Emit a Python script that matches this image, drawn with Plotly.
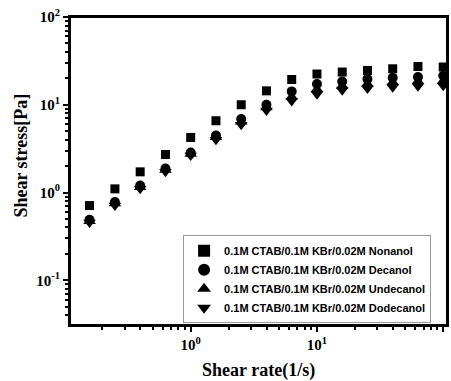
import plotly.graph_objects as go

shear_rate = [0.158, 0.251, 0.398, 0.631, 1.0, 1.585, 2.512, 3.981, 6.31, 10.0, 15.85, 25.12, 39.81, 63.1, 100.0]

nonanol = [0.71, 1.10, 1.72, 2.71, 4.24, 6.57, 10.0, 14.4, 19.4, 22.4, 23.6, 24.6, 25.7, 27.3, 26.9]
decanol = [0.49, 0.78, 1.20, 1.88, 2.86, 4.47, 6.87, 10.0, 14.2, 17.2, 18.4, 19.6, 20.3, 20.7, 21.4]
undecanol = [0.47, 0.75, 1.15, 1.80, 2.75, 4.25, 6.40, 9.3, 12.3, 15.0, 16.5, 17.4, 18.0, 18.5, 18.8]
dodecanol = [0.455, 0.71, 1.10, 1.72, 2.64, 3.99, 5.9, 8.6, 11.0, 13.2, 14.6, 15.3, 15.8, 16.3, 16.5]

series_names = [
    "0.1M CTAB/0.1M KBr/0.02M Nonanol",
    "0.1M CTAB/0.1M KBr/0.02M Decanol",
    "0.1M CTAB/0.1M KBr/0.02M Undecanol",
    "0.1M CTAB/0.1M KBr/0.02M Dodecanol",
]
symbols = ["square", "circle", "triangle-up", "triangle-down"]
sizes = [9, 10, 11, 11]

fig = go.Figure()
for name, ys, sym, sz in zip(series_names, [nonanol, decanol, undecanol, dodecanol], symbols, sizes):
    fig.add_trace(go.Scatter(
        x=shear_rate, y=ys, mode="markers", name=name,
        marker=dict(symbol=sym, size=sz, color="black", line=dict(width=0)),
    ))

major_x = [0.1, 1, 10, 100]
major_y = [0.1, 1, 10, 100]
tick_text = ["10<sup>-1</sup>", "10<sup>0</sup>", "10<sup>1</sup>", "10<sup>2</sup>"]
minor_vals = [m * 10 ** e for e in range(-2, 3) for m in range(2, 10)]

axis_common = dict(
    type="log", showgrid=False, zeroline=False,
    showline=True, linecolor="black", linewidth=2, mirror=True,
    ticks="outside", ticklen=5, tickwidth=2, tickcolor="black",
    tickmode="array", automargin=False,
    tickfont=dict(family="Liberation Serif", size=15, color="black", weight="bold"),
    minor=dict(ticks="outside", ticklen=3, tickwidth=1.5, tickcolor="black",
               tickmode="array", tickvals=minor_vals, showgrid=False),
)

fig.update_xaxes(**axis_common, tickvals=major_x, ticktext=tick_text, range=[-0.956, 2.03])
fig.update_yaxes(**axis_common, tickvals=major_y, ticktext=tick_text, range=[-1.51, 2.0])

fig.add_shape(type="rect", xref="paper", yref="paper", x0=0, y0=0, x1=1, y1=1,
              line=dict(color="black", width=2), layer="above")

fig.add_annotation(
    text="<b>Shear stress[Pa]</b>", xref="paper", yref="paper",
    x=-0.13, y=0.55, textangle=-90, showarrow=False,
    font=dict(family="Liberation Serif", size=18, color="black"),
    xanchor="center", yanchor="middle",
)
fig.add_annotation(
    text="<b>Shear rate(1/s)</b>", xref="paper", yref="paper",
    x=0.5, y=-0.148, showarrow=False,
    font=dict(family="Liberation Serif", size=18, color="black"),
    xanchor="center", yanchor="middle",
)

fig.update_layout(
    width=451, height=381,
    margin=dict(l=70, r=4, t=17, b=56, autoexpand=False),
    plot_bgcolor="white", paper_bgcolor="white",
    showlegend=True,
    legend=dict(
        x=0.30, y=0.006, xanchor="left", yanchor="bottom",
        bgcolor="white", bordercolor="#999999", borderwidth=1,
        font=dict(family="Liberation Sans", size=11, color="black", weight="bold"),
        itemsizing="constant", tracegroupgap=0,
    ),
)

fig.write_html("out.html", config={"displayModeBar": False},
               post_script="document.body.style.margin='0';document.body.style.overflow='hidden';")
